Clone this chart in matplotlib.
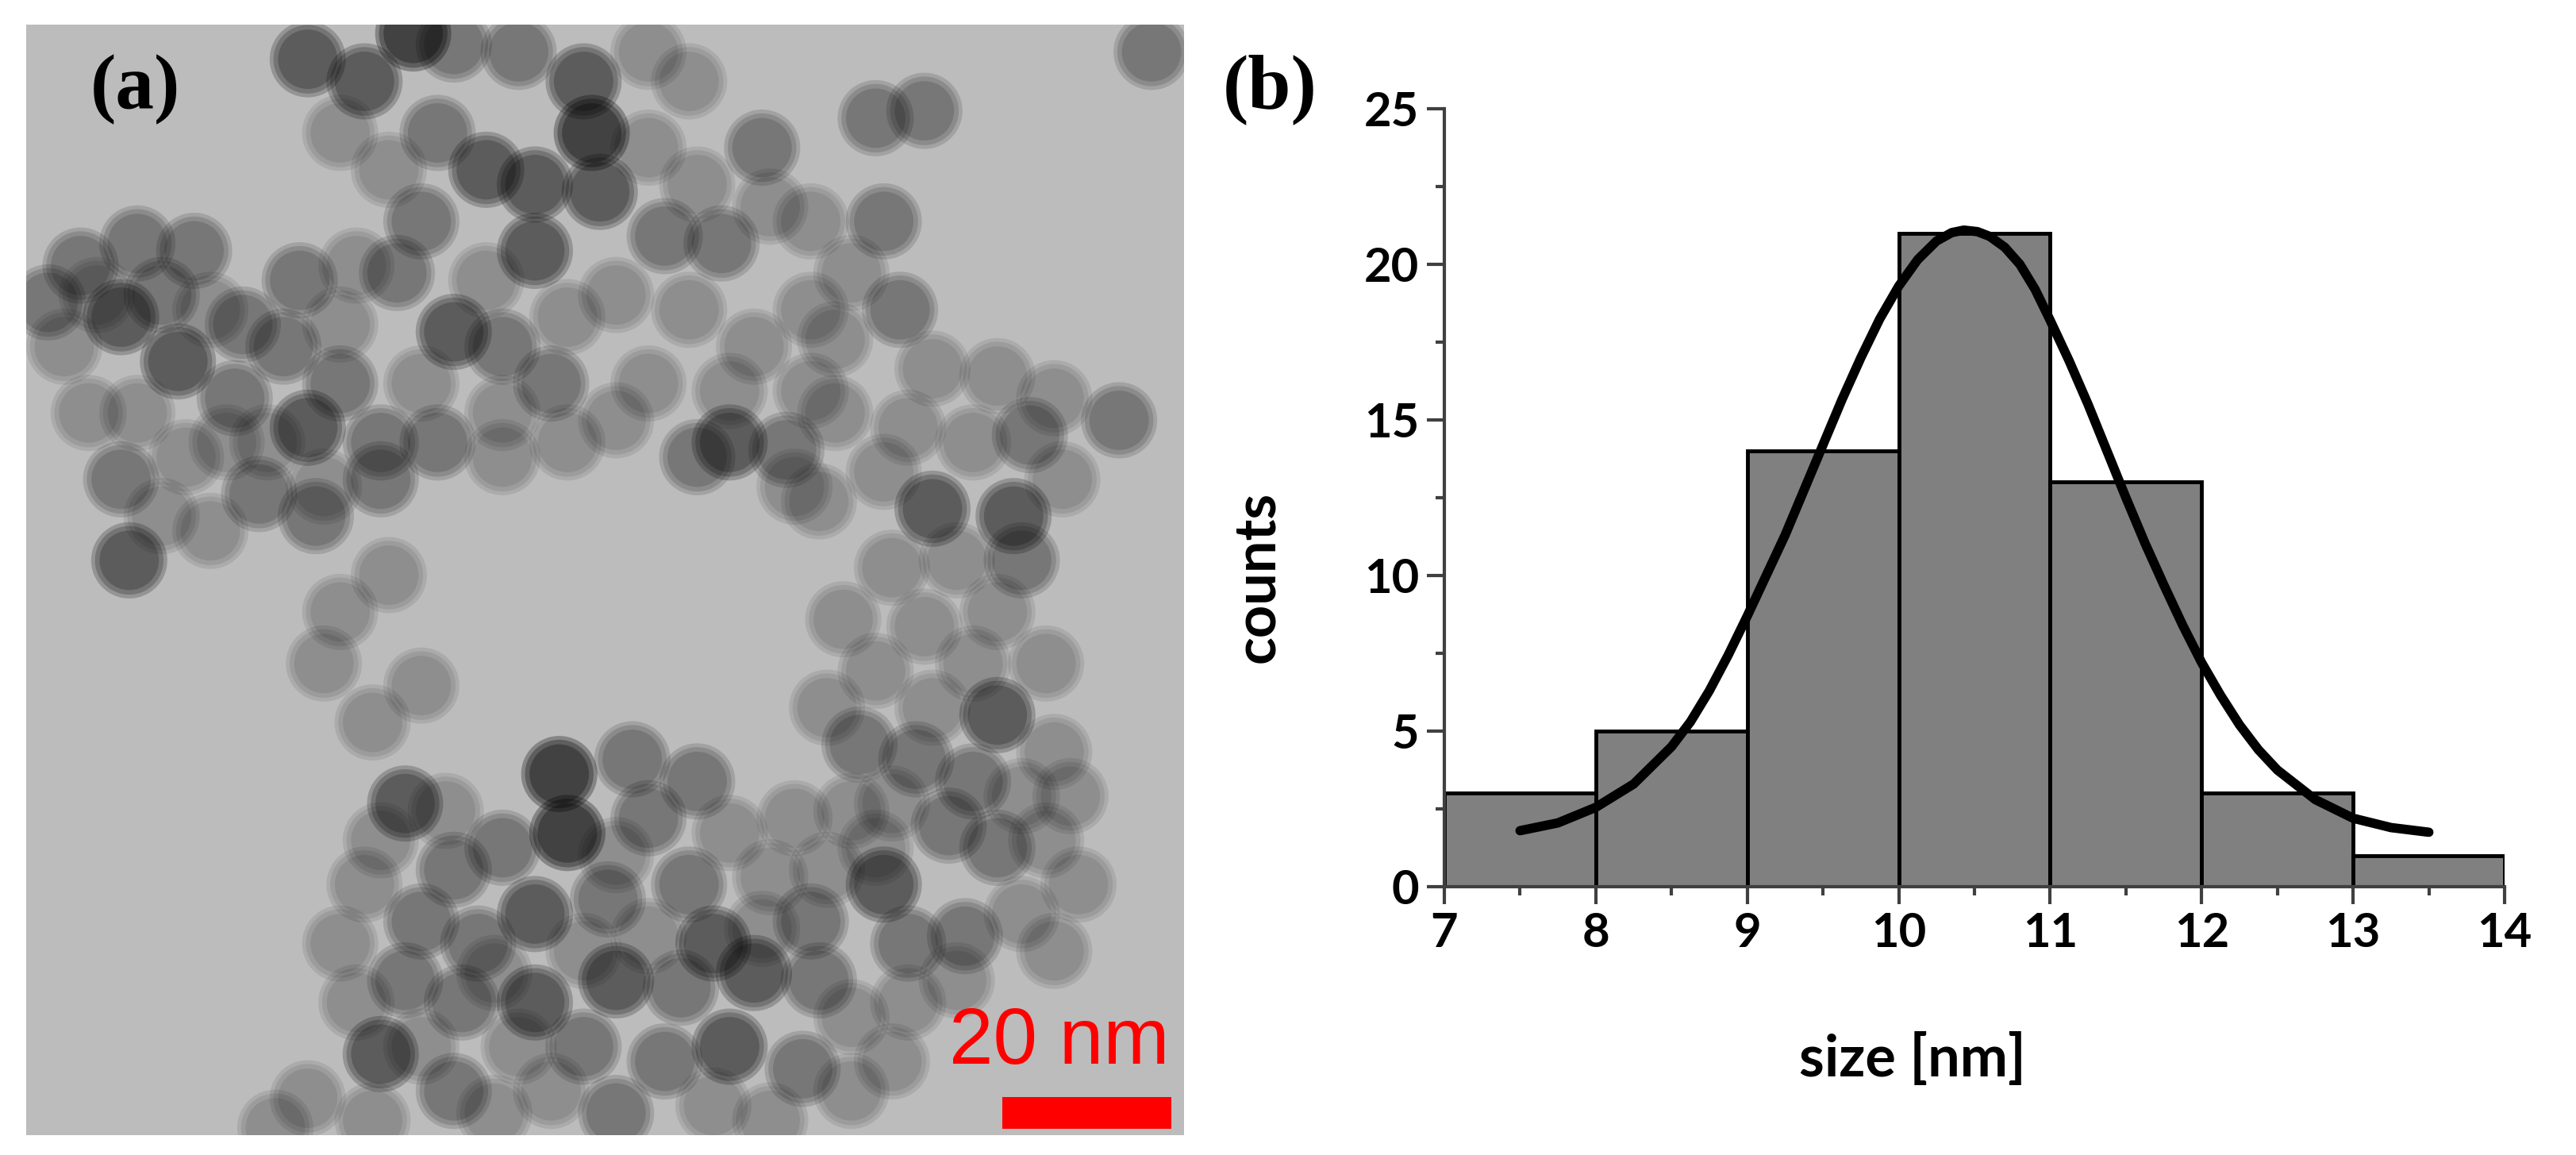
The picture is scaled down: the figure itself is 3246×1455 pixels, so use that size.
import matplotlib
matplotlib.use("Agg")
import matplotlib.pyplot as plt
from matplotlib.patches import Circle, Rectangle
from matplotlib.ticker import MultipleLocator

# histogram of particle sizes (panel b)
bin_edges = [7, 8, 9, 10, 11, 12, 13, 14]
bin_counts = [3, 5, 14, 21, 13, 3, 1]

# Gauss fit curve
fit_x = [7.5, 7.75, 8.0, 8.25, 8.5, 8.625, 8.75, 8.875, 9.0, 9.125, 9.25, 9.375,
         9.5, 9.625, 9.75, 9.875, 10.0, 10.125, 10.25, 10.35, 10.43, 10.52,
         10.6, 10.7, 10.8, 10.9, 11.0, 11.125, 11.25, 11.375, 11.5, 11.625,
         11.75, 11.875, 12.0, 12.125, 12.25, 12.375, 12.5, 12.75, 13.0, 13.25, 13.5]
fit_y = [1.8, 2.05, 2.55, 3.3, 4.5, 5.3, 6.3, 7.45, 8.7, 10.0, 11.3, 12.75,
         14.2, 15.65, 17.0, 18.25, 19.3, 20.15, 20.75, 21.02, 21.1, 21.05,
         20.9, 20.55, 20.0, 19.2, 18.2, 16.9, 15.5, 14.0, 12.5, 11.05,
         9.7, 8.4, 7.2, 6.15, 5.2, 4.4, 3.75, 2.8, 2.2, 1.9, 1.75]

x_ticks = [7, 8, 9, 10, 11, 12, 13, 14]
y_ticks = [0, 5, 10, 15, 20, 25]

# particles seen in the TEM micrograph (panel a): x, y (image px), darkness 1-4
particles = [
    (510, 45, 4), (380, 80, 3), (450, 110, 3), (560, 60, 2), (640, 70, 2),
    (720, 110, 3), (800, 70, 1), (850, 110, 1), (1080, 160, 2), (1140, 150, 2),
    (940, 200, 2), (1420, 70, 2), (600, 230, 3), (660, 250, 3), (730, 180, 4),
    (740, 260, 3), (520, 300, 2), (660, 340, 3), (820, 320, 2), (890, 330, 2),
    (1090, 300, 2), (1050, 370, 1), (1000, 420, 1), (1110, 420, 2),
    (100, 360, 2), (170, 330, 2), (240, 340, 2), (60, 410, 2), (150, 430, 3),
    (220, 490, 3), (300, 440, 2), (370, 380, 2), (350, 470, 2), (560, 450, 3),
    (490, 370, 2), (420, 520, 2), (170, 560, 1), (290, 540, 2), (380, 580, 3),
    (470, 600, 2), (540, 600, 2), (620, 620, 1), (150, 650, 2), (320, 670, 2),
    (390, 700, 2), (160, 760, 3), (470, 650, 2), (680, 520, 2), (760, 570, 1),
    (900, 600, 3), (970, 610, 2), (1000, 530, 1), (930, 470, 1), (1030, 460, 1),
    (1150, 500, 1), (1230, 510, 1), (1300, 540, 1), (1380, 570, 2), (1270, 590, 2),
    (480, 780, 1), (420, 830, 1), (400, 900, 1), (520, 930, 1), (460, 980, 1),
    (1010, 680, 1), (1090, 640, 1), (1150, 690, 3), (1250, 700, 3), (1260, 760, 2),
    (1100, 770, 1), (1140, 850, 1), (1230, 830, 1), (1080, 910, 1), (1150, 960, 1),
    (1230, 970, 3), (1060, 1010, 2), (1130, 1030, 2), (1300, 1020, 1), (1200, 1060, 2),
    (690, 1050, 4), (700, 1130, 4), (500, 1090, 3), (780, 1030, 2), (860, 1060, 2),
    (800, 1110, 2), (560, 1180, 2), (620, 1150, 2), (450, 1200, 1), (520, 1250, 2),
    (590, 1280, 2), (660, 1240, 3), (750, 1220, 2), (850, 1200, 2), (880, 1280, 3),
    (950, 1190, 1), (1000, 1250, 2), (1090, 1200, 3), (1080, 1150, 1), (1170, 1120, 2),
    (1230, 1150, 2), (1290, 1140, 1), (1190, 1270, 2), (1260, 1240, 1), (1120, 1280, 2),
    (500, 1330, 2), (570, 1360, 2), (660, 1360, 3), (760, 1330, 3), (840, 1340, 2),
    (930, 1320, 3), (1010, 1330, 2), (470, 1430, 3), (560, 1480, 2), (640, 1420, 1),
    (720, 1420, 2), (820, 1440, 2), (900, 1420, 3), (990, 1450, 2), (380, 1490, 1),
    (340, 1530, 1), (760, 1510, 2), (1050, 1480, 1),
    # fainter particles filling the clusters
    (80, 470, 1), (120, 400, 1), (200, 400, 2), (260, 420, 1), (280, 600, 1),
    (230, 620, 1), (110, 560, 1), (200, 700, 1), (260, 720, 1), (330, 600, 1),
    (420, 440, 1), (440, 360, 1), (400, 660, 1),
    (480, 230, 1), (540, 180, 2), (420, 180, 1), (800, 200, 1), (860, 250, 1),
    (760, 400, 1), (700, 430, 1), (620, 470, 2), (600, 380, 1), (520, 520, 1),
    (620, 560, 1), (700, 600, 1), (800, 520, 1), (850, 420, 1), (950, 280, 1),
    (1000, 300, 1), (900, 530, 1), (860, 620, 2), (980, 660, 1),
    (1030, 560, 1), (1120, 580, 1), (1200, 600, 1), (1180, 760, 1), (1310, 650, 1),
    (1040, 840, 1), (1200, 900, 1), (1290, 900, 1), (1020, 960, 1), (1260, 1080, 1),
    (1320, 1080, 1), (1100, 1090, 1), (1050, 1100, 1), (1330, 1200, 1), (1300, 1290, 1),
    (470, 1140, 1), (550, 1100, 1), (760, 1160, 1), (900, 1130, 1), (980, 1110, 1),
    (1020, 1180, 1), (420, 1280, 1), (440, 1360, 1), (610, 1320, 1), (720, 1290, 1),
    (800, 1270, 1), (940, 1260, 1), (1050, 1380, 1), (1120, 1360, 1), (1180, 1330, 1),
    (680, 1480, 1), (610, 1510, 1), (880, 1500, 1), (950, 1520, 1), (460, 1520, 1),
    (1100, 1440, 1), (520, 1420, 1),
]
darkness_alpha = {1: 0.24, 2: 0.36, 3: 0.5, 4: 0.64}

tick_font = "Lato"
fig = plt.figure(figsize=(32.46, 14.55), dpi=100)

# ---- panel (a): micrograph ----
img_w, img_h = 1459, 1399
ax_a = fig.add_axes([33 / 3246, 1 - 1430 / 1455, img_w / 3246, img_h / 1455])
ax_a.set_xlim(0, img_w)
ax_a.set_ylim(img_h, 0)
ax_a.set_facecolor("#bcbcbc")
ax_a.set_xticks([])
ax_a.set_yticks([])
for s in ax_a.spines.values():
    s.set_visible(False)

# soft-edged particles: a few stacked discs each
radius = 48
for px, py, d in particles:
    cx = (px - 33) * 1.0224
    cy = (py - 33) * 0.9283
    a = darkness_alpha[d]
    q = 1 - (1 - a) ** (1 / 3)
    for f in (1.0, 0.9, 0.78):
        ax_a.add_patch(Circle((cx, cy), radius * f, facecolor="black",
                              edgecolor="none", alpha=q))

ax_a.add_patch(Rectangle((1263 - 33, 1382 - 31), 213, 40, facecolor="#ff0000",
                         edgecolor="none", zorder=5))
ax_a.text(1474 - 33, 1340 - 31, "20 nm", color="#ff0000", fontsize=72,
          family="Liberation Sans", ha="right", va="baseline", zorder=5)
ax_a.text(170 - 33, 113 - 31, "(a)", fontsize=70, fontweight="bold",
          family="Liberation Serif", ha="center", va="center", zorder=5)

# ---- panel (b): size histogram ----
ax_b = fig.add_axes([1820 / 3246, 1 - 1117 / 1455, (3156 - 1820) / 3246, (1117 - 137) / 1455])
widths = [bin_edges[i + 1] - bin_edges[i] for i in range(len(bin_counts))]
ax_b.bar(bin_edges[:-1], bin_counts, width=widths, align="edge", color="#808080",
         edgecolor="black", linewidth=3.5, zorder=2)
ax_b.plot(fit_x, fit_y, color="black", linewidth=8.5, solid_capstyle="round",
          solid_joinstyle="round", zorder=3)

ax_b.set_xlim(7, 14)
ax_b.set_ylim(0, 25)
ax_b.set_xticks(x_ticks)
ax_b.set_yticks(y_ticks)
ax_b.xaxis.set_minor_locator(MultipleLocator(0.5))
ax_b.yaxis.set_minor_locator(MultipleLocator(2.5))
ax_b.spines["top"].set_visible(False)
ax_b.spines["right"].set_visible(False)
for side in ["left", "bottom"]:
    ax_b.spines[side].set_color("#404040")
    ax_b.spines[side].set_linewidth(3)
ax_b.tick_params(which="major", direction="out", length=16, width=3, color="#404040", pad=7)
ax_b.tick_params(which="minor", direction="out", length=8, width=3, color="#404040")
for lab in ax_b.get_xticklabels() + ax_b.get_yticklabels():
    lab.set_fontfamily(tick_font)
    lab.set_fontweight("bold")
    lab.set_fontsize(43)

fig.text(2410 / 3246, 1 - 1335 / 1455, "size [nm]", fontsize=52, fontweight="bold",
         family=tick_font, ha="center", va="center")
fig.text(1585 / 3246, 1 - 727 / 1455, "counts", fontsize=52, fontweight="bold",
         family=tick_font, ha="center", va="center", rotation=90)
fig.text(1600 / 3246, 1 - 113 / 1455, "(b)", fontsize=70, fontweight="bold",
         family="Liberation Serif", ha="center", va="center")

fig.savefig("out.png", dpi=100)
